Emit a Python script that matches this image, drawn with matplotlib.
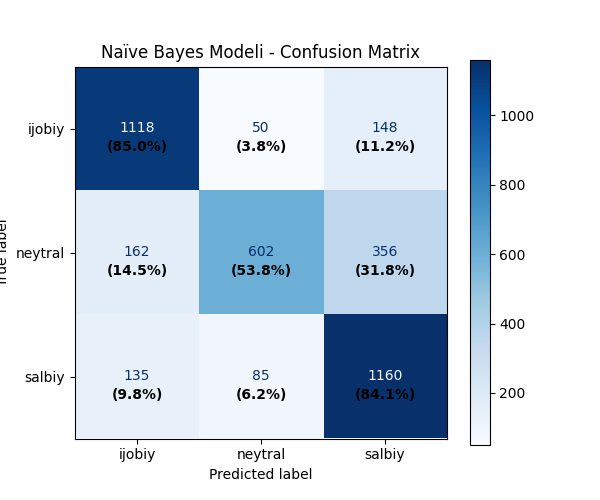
import matplotlib
matplotlib.use("Agg")
import matplotlib.pyplot as plt
import numpy as np

labels = ["ijobiy", "neytral", "salbiy"]
row_ijobiy = [1118, 50, 148]
row_neytral = [162, 602, 356]
row_salbiy = [135, 85, 1160]

cm = np.array([row_ijobiy, row_neytral, row_salbiy])
pct = cm / cm.sum(axis=1, keepdims=True) * 100

fig, ax = plt.subplots(figsize=(6, 5), dpi=100)
cmap = plt.get_cmap("Blues")
im = ax.imshow(cm, interpolation="nearest", cmap=cmap)
fig.colorbar(im, ax=ax)

cmap_min, cmap_max = cmap(0), cmap(1.0)
thresh = (cm.max() + cm.min()) / 2.0
n = cm.shape[0]
for i in range(n):
    for j in range(n):
        color = cmap_max if cm[i, j] < thresh else cmap_min
        ax.text(j, i, f"{cm[i, j]}", ha="center", va="center", color=color)
        ax.text(j, i + 0.15, f"({pct[i, j]:.1f}%)", ha="center", va="center",
                color="black", fontweight="bold")

ax.set_xticks(np.arange(n))
ax.set_yticks(np.arange(n))
ax.set_xticklabels(labels)
ax.set_yticklabels(labels)
ax.set_xlabel("Predicted label")
ax.set_ylabel("True label")
ax.set_ylim((n - 0.5, -0.5))
ax.set_title("Naïve Bayes Modeli - Confusion Matrix")

fig.savefig("out.png", dpi=100)
